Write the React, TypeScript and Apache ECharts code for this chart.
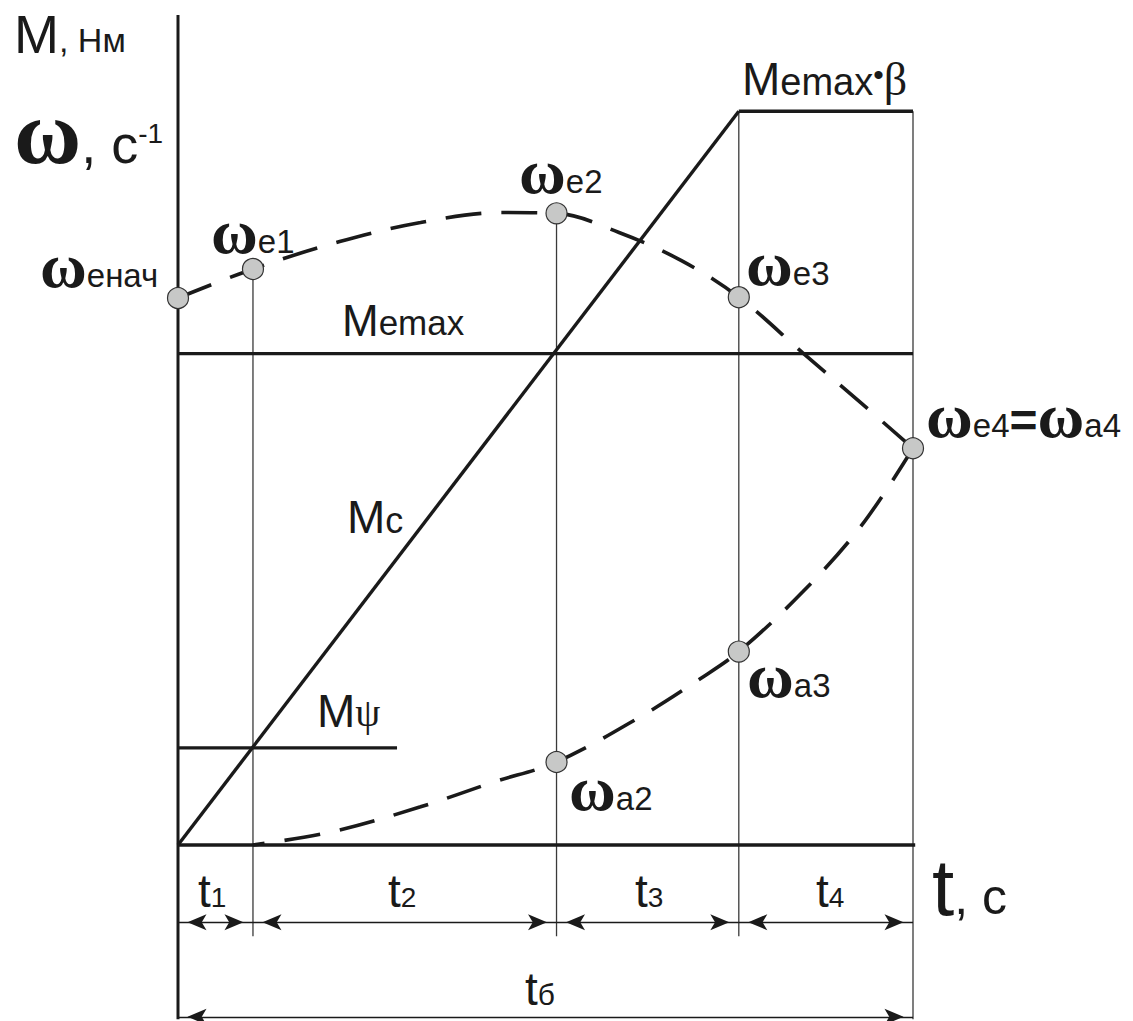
import React, { useEffect, useRef } from "react";
import * as echarts from "echarts";

// ---- data (time in arbitrary units, value in arbitrary units) ----
const T_BOUNDS = [0, 1.02, 5.15, 7.63, 10]; // t1..t4 boundaries
const X_AXIS_END = 10.03;
const Y_TOP = 10;
const Y_MIN = -2.1;
const M_EMAX = 5.92;
const M_EMAX_BETA = 8.84;
const M_PSI = 1.17;
const M_PSI_END = 2.98;
const MC_LINE_X = [0, 7.63];
const MC_LINE_Y = [0, 8.84];

const WE_X = [0, 1.02, 2.2, 3.3, 4.4, 5.15, 6.0, 6.85, 7.63, 8.5, 9.3, 10];
const WE_Y = [6.59, 6.94, 7.27, 7.5, 7.62, 7.61, 7.38, 7.04, 6.6, 5.93, 5.32, 4.78];
const WA_X = [1.02, 2.1, 3.3, 4.3, 5.15, 6.3, 7.1, 7.63, 8.5, 9.3, 10];
const WA_Y = [0, 0.16, 0.46, 0.76, 1.0, 1.55, 2.0, 2.33, 3.05, 3.85, 4.78];

const WE_PT_X = [0, 1.02, 5.15, 7.63, 10];
const WE_PT_Y = [6.59, 6.94, 7.61, 6.6, 4.78];
const WA_PT_X = [5.15, 7.63];
const WA_PT_Y = [1.0, 2.33];

const DIM_Y = -0.93;
const TOTAL_DIM_Y = -2.07;
const TICK_BOTTOM = -1.1;
const AXIS_BOTTOM = -2.1;

const INK = "#1a1a1a";
const SANS = "Liberation Sans";
const SERIF = "Liberation Serif";

type Tok = { t: string; f: number; fam: string; dy?: number; w?: string };

function label(x: number, base: number, tokens: Tok[]) {
  const fm = Math.max(...tokens.map((t) => t.f));
  const rich: Record<string, any> = {};
  let text = "";
  tokens.forEach((tk, i) => {
    const key = "k" + i;
    let p = 0.16 * fm - 0.15 * tk.f + (tk.dy || 0);
    if (tk.f === fm && !tk.dy) p = 0;
    p = Math.max(0, p);
    rich[key] = {
      fontSize: tk.f,
      fontFamily: tk.fam,
      fontWeight: tk.w || "normal",
      verticalAlign: "bottom",
      padding: [0, 0, p, 0],
      fill: INK,
    };
    text += "{" + key + "|" + tk.t + "}";
  });
  return {
    type: "text",
    x,
    y: base - 0.84 * fm,
    z: 100,
    silent: true,
    style: { text, rich, fill: INK, align: "left", verticalAlign: "top" },
  };
}

const W = (x: number, base: number, sub: string, f = 64, fs = 33) =>
  label(x, base, [
    { t: "ω", f, fam: SERIF, w: "bold" },
    { t: sub, f: fs, fam: SANS },
  ]);

function pairs(xs: number[], ys: number[]) {
  return xs.map((x, i) => [x, ys[i]]);
}

function solid(data: number[][], width: number, color = INK, z = 3) {
  return {
    type: "line",
    data,
    symbol: "none",
    showSymbol: false,
    silent: true,
    clip: false,
    z,
    lineStyle: { width, color, cap: "butt" },
  };
}

export default function App() {
  const ref = useRef<HTMLDivElement>(null);
  useEffect(() => {
    if (!ref.current) return;
    const chart = echarts.init(ref.current, undefined, { renderer: "svg" });

    const thin = "#3a3a3a";
    const series: any[] = [
      solid([[T_BOUNDS[0], AXIS_BOTTOM], [T_BOUNDS[0], Y_TOP]], 3),
      solid([[T_BOUNDS[1], WE_PT_Y[1]], [T_BOUNDS[1], TICK_BOTTOM]], 1.3, thin, 2),
      solid([[T_BOUNDS[2], WE_PT_Y[2]], [T_BOUNDS[2], TICK_BOTTOM]], 1.3, thin, 2),
      solid([[T_BOUNDS[3], M_EMAX_BETA], [T_BOUNDS[3], TICK_BOTTOM]], 1.3, thin, 2),
      solid([[T_BOUNDS[4], M_EMAX_BETA], [T_BOUNDS[4], AXIS_BOTTOM]], 1.3, thin, 2),
      solid([[T_BOUNDS[0], M_EMAX], [T_BOUNDS[4], M_EMAX]], 3.4),
      solid([[T_BOUNDS[3], M_EMAX_BETA], [T_BOUNDS[4], M_EMAX_BETA]], 3.4),
      solid(pairs(MC_LINE_X, MC_LINE_Y), 3.4),
      solid([[T_BOUNDS[0], M_PSI], [M_PSI_END, M_PSI]], 3.4),
      {
        ...solid([[T_BOUNDS[0], 0], [X_AXIS_END, 0]], 3.4),
        markLine: {
          silent: true,
          symbol: ["arrow", "arrow"],
          symbolSize: [12, 19],
          symbolOffset: [[0, 9.5], [0, 9.5]],
          label: { show: false },
          lineStyle: { color: INK, width: 1.3, type: "solid" },
          emphasis: { disabled: true },
          data: [
            [{ coord: [T_BOUNDS[0], DIM_Y] }, { coord: [T_BOUNDS[1], DIM_Y] }],
            [{ coord: [T_BOUNDS[1], DIM_Y] }, { coord: [T_BOUNDS[2], DIM_Y] }],
            [{ coord: [T_BOUNDS[2], DIM_Y] }, { coord: [T_BOUNDS[3], DIM_Y] }],
            [{ coord: [T_BOUNDS[3], DIM_Y] }, { coord: [T_BOUNDS[4], DIM_Y] }],
            [{ coord: [T_BOUNDS[0], TOTAL_DIM_Y] }, { coord: [T_BOUNDS[4], TOTAL_DIM_Y] }],
          ],
        },
      },
      {
        type: "line",
        data: pairs(WE_X, WE_Y),
        smooth: 0.35,
        symbol: "none",
        silent: true,
        clip: false,
        z: 4,
        lineStyle: { width: 3.6, color: INK, type: [36, 20], cap: "butt" },
      },
      {
        type: "line",
        data: pairs(WA_X, WA_Y),
        smooth: 0.35,
        symbol: "none",
        silent: true,
        clip: false,
        z: 4,
        lineStyle: { width: 3.6, color: INK, type: [36, 20], cap: "butt", dashOffset: 24 },
      },
      {
        type: "scatter",
        data: pairs(WE_PT_X, WE_PT_Y).concat(pairs(WA_PT_X, WA_PT_Y)),
        symbol: "circle",
        symbolSize: 21,
        silent: true,
        clip: false,
        z: 6,
        itemStyle: { color: "#c7c8c7", borderColor: "#333", borderWidth: 1.2, opacity: 1 },
      },
    ];

    const graphics: any[] = [
      label(14, 52, [
        { t: "M", f: 54, fam: SANS },
        { t: ", Нм", f: 34, fam: SANS },
      ]),
      label(14, 163, [
        { t: "ω", f: 92, fam: SERIF, w: "bold" },
        { t: ", с", f: 54, fam: SANS },
        { t: "-1", f: 28, fam: SANS, dy: 20 },
      ]),
      W(40, 287, "енач"),
      W(211, 253, "e1"),
      W(519, 193, "e2"),
      W(746, 285, "e3"),
      label(926, 437, [
        { t: "ω", f: 64, fam: SERIF, w: "bold" },
        { t: "e4", f: 33, fam: SANS },
        { t: "=", f: 48, fam: SANS, w: "bold" },
        { t: "ω", f: 64, fam: SERIF, w: "bold" },
        { t: "a4", f: 33, fam: SANS },
      ]),
      W(569, 810, "a2"),
      W(747, 697, "a3"),
      label(342, 335, [
        { t: "M", f: 44, fam: SANS },
        { t: "emax", f: 35, fam: SANS },
      ]),
      label(347, 533, [
        { t: "M", f: 46, fam: SANS },
        { t: "c", f: 36, fam: SANS },
      ]),
      label(317, 727, [
        { t: "M", f: 46, fam: SANS },
        { t: "ψ", f: 40, fam: SERIF },
      ]),
      label(742, 95, [
        { t: "M", f: 46, fam: SANS },
        { t: "emax", f: 38, fam: SANS },
        { t: "•", f: 30, fam: SANS, dy: 10 },
        { t: "β", f: 46, fam: SERIF },
      ]),
      label(932, 915, [
        { t: "t", f: 80, fam: SANS },
        { t: ", с", f: 50, fam: SANS },
      ]),
      label(198, 907, [
        { t: "t", f: 46, fam: SANS },
        { t: "1", f: 28, fam: SANS },
      ]),
      label(388, 907, [
        { t: "t", f: 46, fam: SANS },
        { t: "2", f: 28, fam: SANS },
      ]),
      label(635, 907, [
        { t: "t", f: 46, fam: SANS },
        { t: "3", f: 28, fam: SANS },
      ]),
      label(816, 907, [
        { t: "t", f: 46, fam: SANS },
        { t: "4", f: 28, fam: SANS },
      ]),
      label(525, 1005, [
        { t: "t", f: 46, fam: SANS },
        { t: "б", f: 30, fam: SANS },
      ]),
    ];

    chart.setOption({
      animation: false,
      backgroundColor: "#ffffff",
      grid: { left: 178, top: 15, width: 735, height: (Y_TOP - Y_MIN) * 83 },
      xAxis: { type: "value", min: 0, max: 10, show: false },
      yAxis: { type: "value", min: Y_MIN, max: Y_TOP, show: false },
      series,
      graphic: graphics,
    });
    return () => chart.dispose();
  }, []);

  return (
    <div
      ref={ref}
      style={{ position: "fixed", left: 0, top: 0, width: 1133, height: 1021, background: "#fff" }}
    />
  );
}
